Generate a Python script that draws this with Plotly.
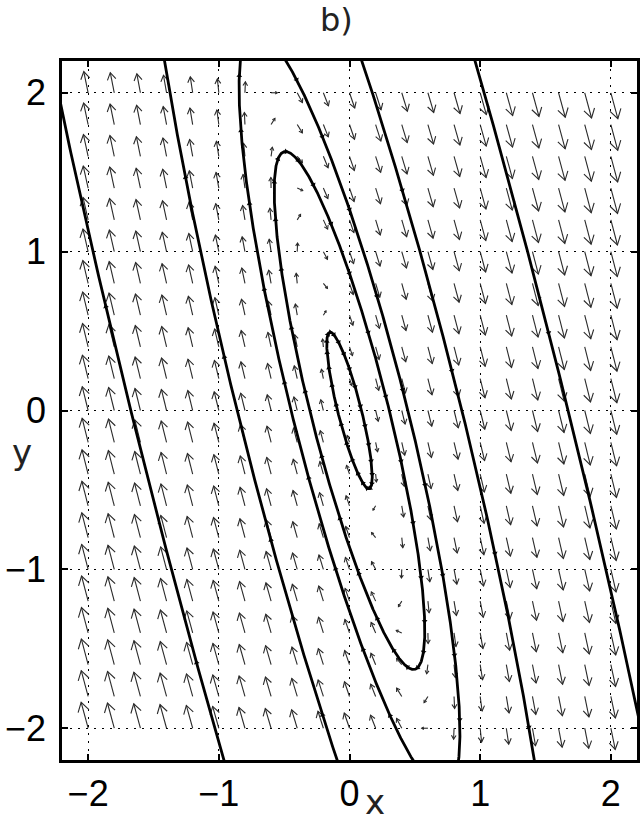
import numpy as np
import plotly.graph_objects as go

# ---- data -------------------------------------------------------------
# linear system  x' = coef_x[0] x + coef_x[1] y ,  y' = coef_y[0] x + coef_y[1] y
coef_x = [3.0, 1.25]
coef_y = [-10.0, -3.0]
# direction-field grid
grid_x = [round(-2 + 0.2 * i, 2) for i in range(21)]
grid_y = [round(-2 + 0.2 * i, 2) for i in range(21)]
# levels of the conserved quantity H = 10x^2 + 6xy + 1.25y^2 for the drawn orbits
orbit_levels = [0.085, 0.93, 2.0, 7.4, 28.0]
tick_vals = [-2, -1, 0, 1, 2]
tick_text = ["\u22122", "\u22121", "0", "1", "2"]

# ---- geometry helpers --------------------------------------------------
W, H = 641, 822
ML, MR, MT, MB = 62, 1, 61, 62
RANGE = [-2.2, 2.2]
PXX = (W - ML - MR) / (RANGE[1] - RANGE[0])
PXY = (H - MT - MB) / (RANGE[1] - RANGE[0])

def field(x, y):
    return coef_x[0] * x + coef_x[1] * y, coef_y[0] * x + coef_y[1] * y

# ---- direction field arrows --------------------------------------------
p_exp = 0.35
scale = 0.054
ax_, ay_ = [], []
for gx in grid_x:
    for gy in grid_y:
        u, v = field(gx, gy)
        m = np.hypot(u, v)
        if m == 0:
            continue
        L = scale * m ** p_exp
        dx, dy = L * u / m, L * v / m
        px, py = dx * PXX, dy * PXY
        lp = np.hypot(px, py)
        bx, by = -px / lp, -py / lp
        nx, ny = -by, bx
        hl, hw = 0.34 * lp, 0.21 * lp
        tx, ty = gx + dx, gy + dy
        l1 = (tx + (bx * hl + nx * hw) / PXX, ty + (by * hl + ny * hw) / PXY)
        l2 = (tx + (bx * hl - nx * hw) / PXX, ty + (by * hl - ny * hw) / PXY)
        ax_ += [gx, tx, None, l1[0], tx, l2[0], None]
        ay_ += [gy, ty, None, l1[1], ty, l2[1], None]

fig = go.Figure()
fig.add_trace(go.Scatter(x=ax_, y=ay_, mode="lines",
                         line=dict(color="#2a2a2a", width=1.1),
                         hoverinfo="skip", showlegend=False))

# ---- orbits (level sets of H) -------------------------------------------
a_h = -coef_y[0]
b_h = coef_x[0]
c_h = coef_x[1]
t = np.linspace(0, 2 * np.pi, 1500)
for h in orbit_levels:
    xs = np.sqrt(h / (a_h - b_h ** 2 / c_h)) * np.sin(t)
    ws = np.sqrt(h / c_h) * np.cos(t)
    ys = ws - (b_h / c_h) * xs
    fig.add_trace(go.Scatter(x=xs, y=ys, mode="lines",
                             line=dict(color="black", width=2.8),
                             hoverinfo="skip", showlegend=False))
    mx, my, ma = [], [], []
    for k in range(0, len(t), 60):
        x0, y0 = xs[k], ys[k]
        if abs(x0) > 2.15 or abs(y0) > 2.15:
            continue
        u, v = field(x0, y0)
        ang = np.degrees(np.arctan2(u * PXX, v * PXY))
        mx.append(x0); my.append(y0); ma.append(ang)
    fig.add_trace(go.Scatter(x=mx, y=my, mode="markers",
                             marker=dict(symbol="triangle-up", size=5, color="black",
                                         angle=ma),
                             hoverinfo="skip", showlegend=False))

axis_common = dict(range=RANGE, tickvals=tick_vals, ticktext=tick_text,
                   showgrid=True, gridcolor="black", griddash="2px,6px", gridwidth=1.4,
                   zeroline=False, showline=True, linecolor="black", linewidth=2.5,
                   mirror="ticks", ticks="inside", ticklen=6, tickwidth=1.5,
                   tickcolor="black",
                   tickfont=dict(family="Liberation Sans, Arial, sans-serif", size=36,
                                 color="black"))

def px_x(p):
    return (p - ML) / (W - ML - MR)

def px_y(p):
    return (H - MB - p) / (H - MT - MB)

fig.update_layout(
    width=W, height=H,
    margin=dict(l=ML, r=MR, t=MT, b=MB),
    paper_bgcolor="white", plot_bgcolor="white",
    xaxis=dict(**axis_common, ticklabelstandoff=0),
    yaxis=dict(**axis_common, ticklabelstandoff=6),
    annotations=[
        dict(text="b)", xref="paper", yref="paper", x=px_x(338), y=px_y(20),
             xanchor="center", yanchor="middle",
             showarrow=False, font=dict(family="DejaVu Sans", size=32, color="#222")),
        dict(text="y", xref="paper", yref="paper", x=px_x(22), y=px_y(452),
             xanchor="center", yanchor="middle",
             showarrow=False, font=dict(family="DejaVu Sans", size=34, color="#222")),
        dict(text="x", xref="paper", yref="paper", x=px_x(377), y=px_y(802),
             xanchor="center", yanchor="middle",
             showarrow=False, font=dict(family="DejaVu Sans", size=34, color="#222")),
    ],
)

fig.write_html("out.html")
